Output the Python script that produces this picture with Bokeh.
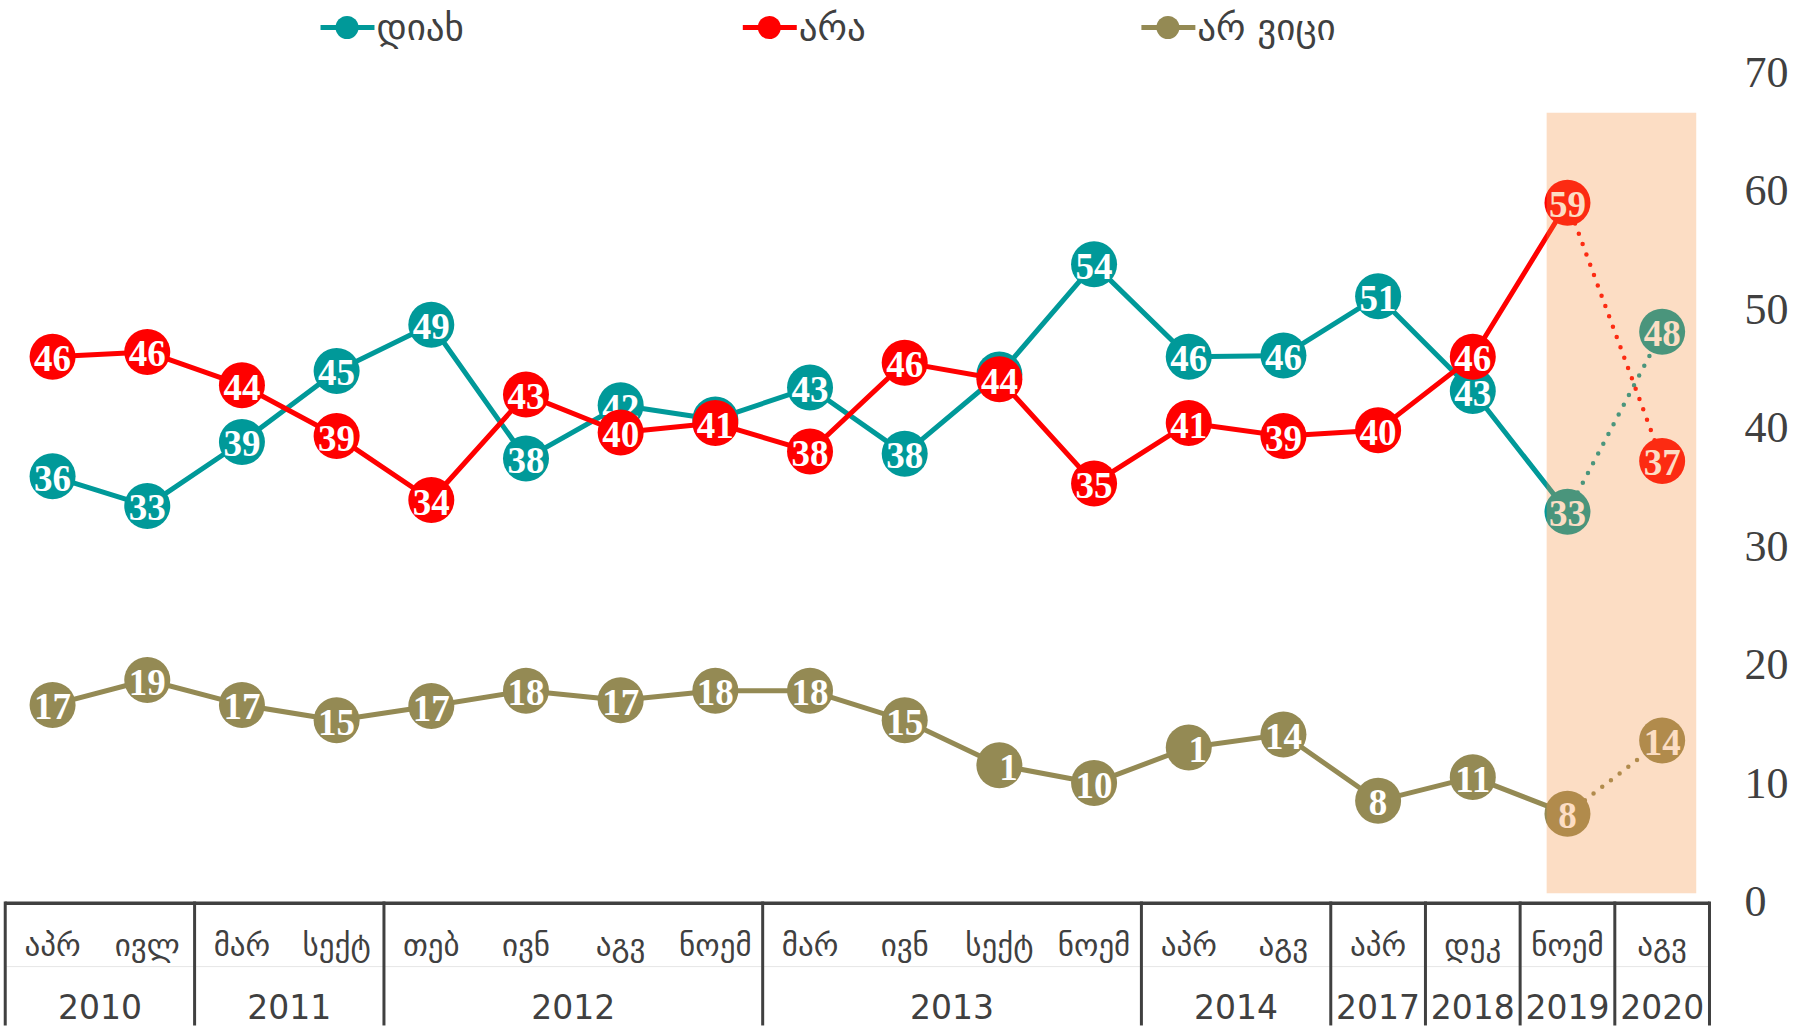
import numpy as np
from bokeh.plotting import figure
from bokeh.models import ColumnDataSource, Range1d, FixedTicker
from bokeh.core.properties import value
from bokeh.embed import file_html
from bokeh.resources import INLINE

# ---------------- data ----------------
months = ["აპრ", "ივლ", "მარ", "სექტ", "თებ", "ივნ", "აგვ", "ნოემ",
          "მარ", "ივნ", "სექტ", "ნოემ", "აპრ", "აგვ", "აპრ", "დეკ", "ნოემ", "აგვ"]
years = ["2010", "2011", "2012", "2013", "2014", "2017", "2018", "2019", "2020"]
year_counts = [2, 2, 4, 4, 2, 1, 1, 1, 1]

series_names = ["დიახ", "არა", "არ ვიცი"]
yes_vals = [35.9, 33.4, 38.8, 44.8, 48.7, 37.4, 41.9, 40.7, 43.4, 37.8, 44.5, 53.8,
            46.0, 46.1, 51.1, 43.1, 32.9, 48.1]
no_vals = [46.0, 46.4, 43.6, 39.3, 33.9, 42.8, 39.6, 40.4, 38.0, 45.5, 44.1, 35.3,
           40.4, 39.3, 39.8, 46.0, 59.0, 37.2]
dk_vals = [16.6, 18.7, 16.6, 15.3, 16.5, 17.8, 17.0, 17.8, 17.8, 15.3, 11.5, 10.0,
           13.0, 14.1, 8.5, 10.5, 7.4, 13.6]
yes_labels = ["36", "33", "39", "45", "49", "38", "42", "41", "43", "38", "44", "54",
              "46", "46", "51", "43", "33", "48"]
no_labels = ["46", "46", "44", "39", "34", "43", "40", "41", "38", "46", "44", "35",
             "41", "39", "40", "46", "59", "37"]
dk_labels = ["17", "19", "17", "15", "17", "18", "17", "18", "18", "15", "1", "10",
             "1", "14", "8", "11", "8", "14"]
y_ticks = [0, 10, 20, 30, 40, 50, 60, 70]

colors = ["#009999", "#FF0000", "#948A54"]
TXT = "#404040"

# ---------------- figure ----------------
p = figure(width=1796, height=1031,
           x_range=Range1d(-0.05, 18.074), y_range=Range1d(-10.98, 76.08),
           output_backend="svg", toolbar_location=None,
           x_axis_location=None, y_axis_location="right",
           min_border_left=0, min_border_right=80,
           min_border_top=0, min_border_bottom=0)
p.outline_line_color = None
p.grid.visible = False
p.background_fill_color = "white"
p.border_fill_color = "white"

ax = p.yaxis[0]
ax.ticker = FixedTicker(ticks=y_ticks)
ax.axis_line_color = None
ax.major_tick_line_color = None
ax.minor_tick_line_color = None
ax.major_tick_out = 0
ax.major_label_standoff = 28
ax.major_label_text_font = "Liberation Serif"
ax.major_label_text_font_size = "44px"
ax.major_label_text_color = TXT

n = len(months)
xc = np.arange(n) + 0.5

# ---------------- category table below ----------------
edges = np.concatenate([[0], np.cumsum(year_counts)])
p.segment(x0=[0], y0=[-0.15], x1=[n], y1=[-0.15], line_color=TXT, line_width=3.5)
p.segment(x0=[0], y0=[-5.5], x1=[n], y1=[-5.5], line_color="#E6E6E6", line_width=1)
p.segment(x0=edges, y0=[0] * len(edges), x1=edges, y1=[-10.47] * len(edges),
          line_color=TXT, line_width=3)
p.text(x=xc, y=[-3.7] * n, text=months, text_align="center", text_baseline="middle",
       text_font=value("DejaVu Sans"), text_font_size="31px", text_color=TXT)
ycent = (edges[:-1] + edges[1:]) / 2
p.text(x=ycent, y=[-8.85] * len(years), text=years, text_align="center",
       text_baseline="middle", text_font=value("DejaVu Sans"), text_font_size="33px",
       text_color=TXT)

# ---------------- series ----------------
for vals, labs, col in [(yes_vals, yes_labels, colors[0]),
                        (no_vals, no_labels, colors[1]),
                        (dk_vals, dk_labels, colors[2])]:
    v = np.array(vals)
    p.line(x=xc[:-1], y=v[:-1], line_color=col, line_width=5, line_join="round")
    p.line(x=xc[-2:], y=v[-2:], line_color=col, line_width=4.5,
           line_dash="0 11", line_cap="round")
    p.scatter(x=xc, y=v, size=46, marker="circle", fill_color=col, line_color=None)
    xoff = [9 if len(l) < len(str(int(round(val)))) else 0 for l, val in zip(labs, vals)]
    src = ColumnDataSource(dict(x=xc, y=v, t=labs, xo=xoff))
    p.text(x="x", y="y", text="t", x_offset="xo", y_offset=2, source=src,
           text_align="center", text_baseline="middle",
           text_font=value("Liberation Serif"), text_font_style="bold",
           text_font_size="37px", text_color="white")

# ---------------- legend (drawn as glyphs) ----------------
leg_y = 73.8
leg_mark = [3.61, 8.07, 12.28]
for name, col, xm in zip(series_names, colors, leg_mark):
    p.line(x=[xm - 0.28, xm + 0.29], y=[leg_y, leg_y], line_color=col, line_width=5)
    p.scatter(x=[xm], y=[leg_y], size=23, marker="circle", fill_color=col, line_color=None)
    p.text(x=[xm + 0.31], y=[leg_y], text=[name], text_align="left", text_baseline="middle",
           text_font=value("DejaVu Sans"), text_font_size="37px", text_color=TXT)

# ---------------- highlighted band (drawn on top, translucent) ----------------
p.quad(left=[16.28], right=[17.86], bottom=[0.7], top=[66.6],
       fill_color="#F58F3D", fill_alpha=0.3, line_color=None)

open("out.html", "w").write(file_html(p, INLINE))
